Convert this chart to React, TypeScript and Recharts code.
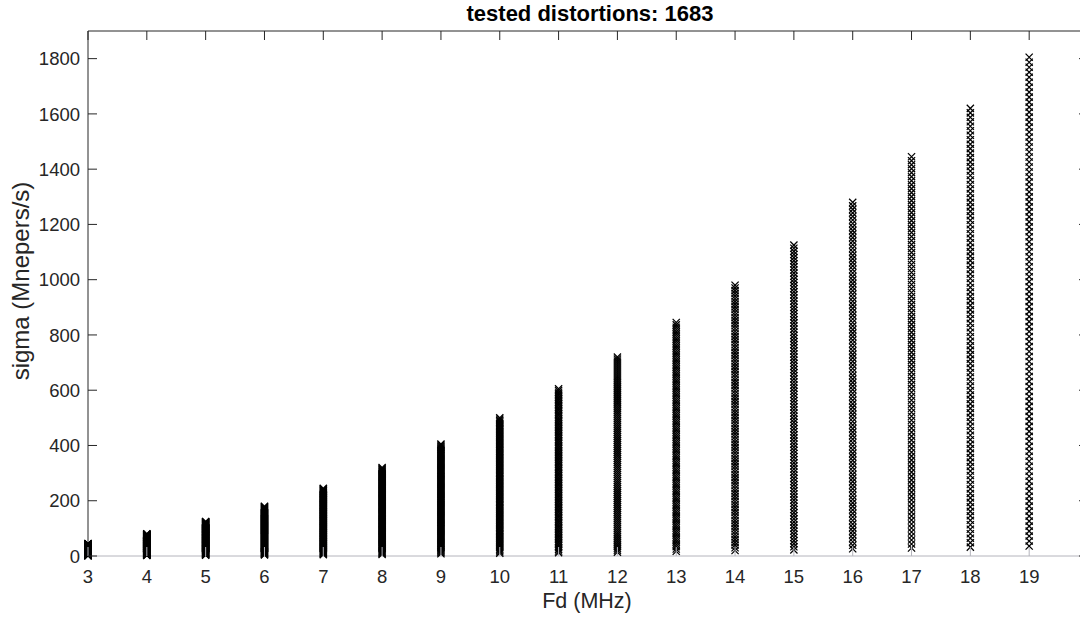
import React from 'react';
import { ScatterChart, Scatter, XAxis, YAxis, ReferenceLine, Label } from 'recharts';

// ---- data ----
const fdValues = [3, 4, 5, 6, 7, 8, 9, 10, 11, 12, 13, 14, 15, 16, 17, 18, 19];
const sigmaMin = [1, 2, 3, 4, 5, 6, 8, 10, 12, 14, 17, 20, 22, 26, 29, 32, 36];
const sigmaMax = [45, 80, 125, 180, 245, 320, 405, 500, 605, 720, 845, 980, 1125, 1280, 1445, 1620, 1805];
const pointsPerColumn = 99; // 1683 tested distortions / 17 columns
const xTicks = [3, 4, 5, 6, 7, 8, 9, 10, 11, 12, 13, 14, 15, 16, 17, 18, 19];
const yTicks = [0, 200, 400, 600, 800, 1000, 1200, 1400, 1600, 1800];
const titleText = 'tested distortions: 1683';
const xLabel = 'Fd (MHz)';
const yLabel = 'sigma (Mnepers/s)';

// evenly spaced sigma levels within each column, as seen in the picture
const points = fdValues.flatMap((fd, i) =>
  Array.from({ length: pointsPerColumn }, (_, k) => ({
    fd,
    sigma: sigmaMin[i] + ((sigmaMax[i] - sigmaMin[i]) * k) / (pointsPerColumn - 1),
  }))
);

// ---- layout ----
const W = 1100;
const H = 621;
const PL = 88;
const PT = 31;
const PR = 1088;
const PB = 556;
const FONT = '"Liberation Sans", Arial, Helvetica, sans-serif';
const AX = '#262626';
const AX_LIGHT = '#b4b4bc';

const XMarker = (props: any) => {
  const { cx, cy } = props;
  if (cx == null || cy == null) return null;
  const r = 3.6;
  return (
    <path
      d={`M${cx - r},${cy - r}L${cx + r},${cy + r}M${cx - r},${cy + r}L${cx + r},${cy - r}`}
      stroke="#000"
      strokeWidth={1.25}
      fill="none"
    />
  );
};

const XTick = (props: any) => {
  const { x, payload } = props;
  return (
    <g>
      <line x1={x} x2={x} y1={PB} y2={PB - 9} stroke={AX_LIGHT} strokeWidth={1} />
      <line x1={x} x2={x} y1={PT} y2={PT + 9} stroke={AX} strokeWidth={1} />
      <text x={x} y={PB + 27} textAnchor="middle" fontFamily={FONT} fontSize={18.5} fill={AX}>
        {payload.value}
      </text>
    </g>
  );
};

const YTick = (props: any) => {
  const { y, payload } = props;
  return (
    <g>
      <line x1={PL} x2={PL + 9} y1={y} y2={y} stroke={AX} strokeWidth={1} />
      <line x1={PR - 9} x2={PR} y1={y} y2={y} stroke={AX} strokeWidth={1} />
      <text x={80} y={y} dy="0.36em" textAnchor="end" fontFamily={FONT} fontSize={18.5} fill={AX}>
        {payload.value}
      </text>
    </g>
  );
};

export default function App() {
  return (
    <div
      style={{
        position: 'absolute',
        left: 0,
        top: 0,
        width: 1080,
        height: 621,
        overflow: 'hidden',
        background: '#fff',
      }}
    >
      <ScatterChart
        width={W}
        height={H}
        margin={{ top: PT, right: W - PR, left: 0, bottom: H - PB - 40 }}
      >
        <XAxis
          dataKey="fd"
          type="number"
          domain={[3, 20]}
          ticks={xTicks}
          interval={0}
          height={40}
          tickLine={false}
          axisLine={{ stroke: AX_LIGHT, strokeWidth: 1 }}
          tick={<XTick />}
        >
          <Label
            content={() => (
              <text x={587} y={608} textAnchor="middle" fontFamily={FONT} fontSize={21.5} fill={AX}>
                {xLabel}
              </text>
            )}
          />
        </XAxis>
        <YAxis
          dataKey="sigma"
          type="number"
          domain={[0, 1900]}
          ticks={yTicks}
          interval={0}
          width={PL}
          tickLine={false}
          axisLine={{ stroke: AX, strokeWidth: 1 }}
          tick={<YTick />}
        >
          <Label
            content={() => (
              <text
                x={28.5}
                y={281}
                textAnchor="middle"
                fontFamily={FONT}
                fontSize={24}
                fill={AX}
                transform="rotate(-90, 28.5, 281)"
              >
                {yLabel}
              </text>
            )}
          />
        </YAxis>
        <ReferenceLine
          y={1900}
          stroke={AX}
          strokeWidth={1}
          label={{
            content: () => (
              <text x={590} y={21} textAnchor="middle" fontFamily={FONT} fontSize={22} fontWeight="bold" fill="#000">
                {titleText}
              </text>
            ),
          }}
        />
        <ReferenceLine x={20} stroke={AX} strokeWidth={1} />
        <Scatter data={points} shape={<XMarker />} isAnimationActive={false} />
      </ScatterChart>
    </div>
  );
}
